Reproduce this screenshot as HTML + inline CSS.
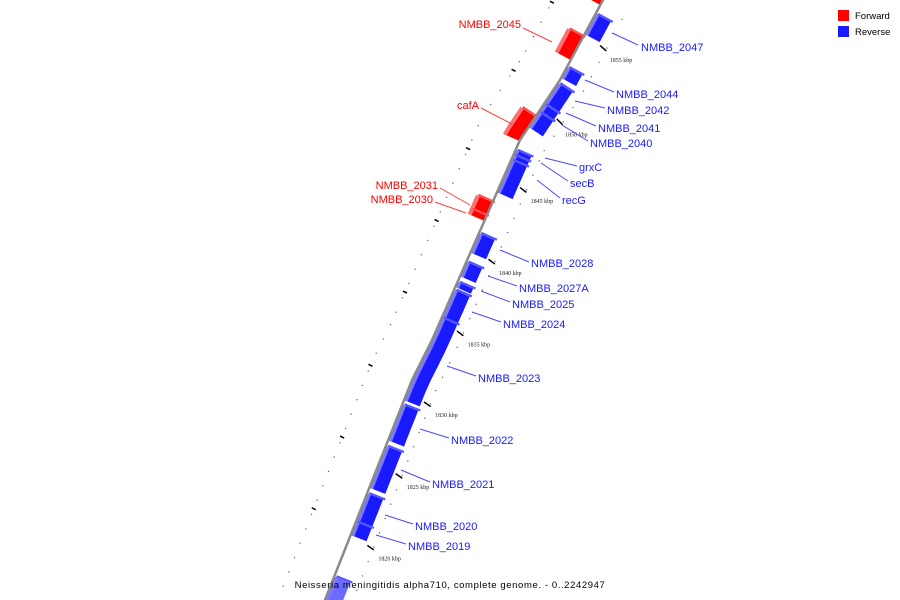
<!DOCTYPE html>
<html><head><meta charset="utf-8"><style>
html,body{margin:0;padding:0;background:#fff;}
svg{display:block;font-family:"Liberation Sans",sans-serif;}
</style></head><body>
<svg id="map" width="900" height="600" viewBox="0 0 900 600" xmlns="http://www.w3.org/2000/svg">
<g id="ticks"></g>
<g id="genes"></g>
<polyline id="backbone" fill="none" stroke="#8a8a8a" stroke-width="2.5"/>
<g id="labels"></g>
<g>
<rect x="838" y="10" width="11" height="11" fill="#ff0000"/>
<text x="855" y="19" font-size="9.5" fill="#000">Forward</text>
<rect x="838" y="26" width="11" height="11" fill="#1a1aff"/>
<text x="855" y="35" font-size="9.5" fill="#000">Reverse</text>
</g>
<text x="450" y="588" text-anchor="middle" font-size="9.5" letter-spacing="0.6" fill="#000">Neisseria meningitidis alpha710, complete genome. - 0..2242947</text>
</svg>
<script>
const geneNames=["","NMBB_2047","NMBB_2045","NMBB_2044","NMBB_2042","NMBB_2041","NMBB_2040","cafA","grxC","secB","recG","NMBB_2031","NMBB_2030","NMBB_2028","NMBB_2027A","NMBB_2025","NMBB_2024","NMBB_2023","NMBB_2022","NMBB_2021","NMBB_2020","NMBB_2019",""];
const geneStart=[1857.66,1855.63,1853.82,1852.57,1850.75,1850.2,1849.15,1848.17,1847.2,1846.85,1844.6,1842.95,1842.6,1840.4,1838.75,1838.0,1835.83,1830.1,1827.3,1824.0,1821.6,1820.7,1816.2];
const geneEnd=[1858.2,1857.03,1855.43,1853.33,1852.22,1850.75,1850.2,1849.85,1847.55,1847.2,1846.85,1843.9,1842.95,1841.75,1839.75,1838.35,1837.8,1835.83,1829.8,1826.9,1823.6,1821.6,1817.8];
const geneStrand=[1,-1,1,-1,-1,-1,-1,1,-1,-1,-1,1,1,-1,-1,-1,-1,-1,-1,-1,-1,-1,-1];
const tickKbp=[1820,1825,1830,1835,1840,1845,1850,1855];
// label layout (text anchor point, leader start/end)
const labelLayout=[null,[641,51,612,33,638,45],[521,28,523,28,552,42],[616,98,585,80,614,92],[607,114,575,101,605,108],[598,132,566,113,596,126],[590,147,562,125,588,141],[479,109,481,108,512,124],[579,171,545,158,577,166],[570,187,541,163,568,181],[562,204,537,180,560,198],[438,189,440,188,470,205],[433,203,435,202,466,213],[531,267,500,250,529,262],[519,292,488,276,517,286],[512,308,481,291,510,302],[503,328,472,312,501,322],[478,382,447,366,476,376],[451,444,420,429,449,438],[432,488,401,470,430,482],[415,530,385,515,413,524],[408,550,376,535,406,544],null];

const NS="http://www.w3.org/2000/svg";
const bbPts=[[603,0],[560,80],[520,140],[432,340],[412,380],[325,600]];
function yOf(k){return 545-(k-1820)*14.34;}
function xLine(y){for(let i=0;i<bbPts.length-1;i++){const a=bbPts[i],b=bbPts[i+1];if(y<=b[1]||i==bbPts.length-2){const t=(y-a[1])/(b[1]-a[1]);return a[0]+t*(b[0]-a[0]);}}}
function slope(y){return (xLine(y+1)-xLine(y-1))/2;}
function pt(y,d){const s=slope(y),L=Math.hypot(s,1);return [xLine(y)+d/L,y-d*s/L];}
function mk(tag,attrs,parent){const e=document.createElementNS(NS,tag);for(const k in attrs)e.setAttribute(k,attrs[k]);parent.appendChild(e);return e;}
document.getElementById('backbone').setAttribute('points',[-10,0,80,140,340,380,610].map(y=>xLine(y).toFixed(1)+','+y).join(' '));
function band(y1,y2,d1,d2){const p=[];const n=6;for(let i=0;i<=n;i++){const y=y1+(y2-y1)*i/n;p.push(pt(y,d1));}for(let i=n;i>=0;i--){const y=y1+(y2-y1)*i/n;p.push(pt(y,d2));}return p.map(q=>q[0].toFixed(1)+','+q[1].toFixed(1)).join(' ');}
const gG=document.getElementById('genes'),lG=document.getElementById('labels'),tG=document.getElementById('ticks');
geneNames.forEach((nm,i)=>{
 const yTop=yOf(geneEnd[i]),yBot=yOf(geneStart[i]);
 const fwd=geneStrand[i]>0;
 const d1=fwd?-18:0,d2=fwd?0:17;
 const faded=(i==geneNames.length-1);
 const col=fwd?'#ff0000':(faded?'#6b6bff':'#1a1aff');
 const g=mk('g',{},gG);
 
 
 const body=mk('polygon',{points:band(yTop,yBot,d1,d2),fill:col},g);
 
 
 const hl=mk('polygon',{points:band(yTop,yBot,d1,d1+4),fill:fwd?'#ff7070':'#7a7aff'},g);
 
 
 const top=mk('polygon',{points:band(yTop-2,yTop,d1+2,d2+2),fill:fwd?'#ff5050':'#5555ff'},g);
 
 
 const L=labelLayout[i];
 if(nm&&L){
  const c=fwd?'#ff0000':'#1a1aff';
  const ln=mk('line',{x1:L[2],y1:L[3],x2:L[4],y2:L[5],stroke:fwd?'#ff4040':'#4848ff','stroke-width':1},lG);
  
  
  const t=mk('text',{x:L[0],y:L[1],'font-size':11,fill:c,'text-anchor':fwd?'end':'start'},lG);
  
  
  t.textContent=nm;
 }
});
for(let k=1816;k<=1858;k++){
 const y=yOf(k);if(y<-5||y>605)continue;
 const p=pt(y,-44);
 const d=mk('circle',{cx:p[0],cy:p[1],r:0.7,fill:'#666'},tG);
 
 
 const p2=pt(y+7,26);
 const d2=mk('circle',{cx:p2[0],cy:p2[1],r:0.7,fill:'#666'},tG);
 
 
}
tickKbp.forEach(k=>{
 const y=yOf(k);
 const a=pt(y-5,20),b=pt(y-5,27);
 const tk=mk('line',{x1:a[0],y1:a[1]-2,x2:b[0],y2:b[1],stroke:'#000','stroke-width':1.5},tG);
 
 
 const lp=pt(y,34);
 const t=mk('text',{x:lp[0],y:lp[1]+3,'font-size':6,fill:'#222','font-family':'Liberation Serif,serif'},tG);
 
 
 t.textContent=k+' kbp';
 const yl=yOf(k+1.4);
 const c=pt(yl,-44),e=pt(yl-2,-41);
 const lt=mk('line',{x1:c[0]-2,y1:c[1]-1,x2:c[0]+2,y2:c[1]+1,stroke:'#000','stroke-width':1.5},tG);
 
 
});
</script>
</body></html>
